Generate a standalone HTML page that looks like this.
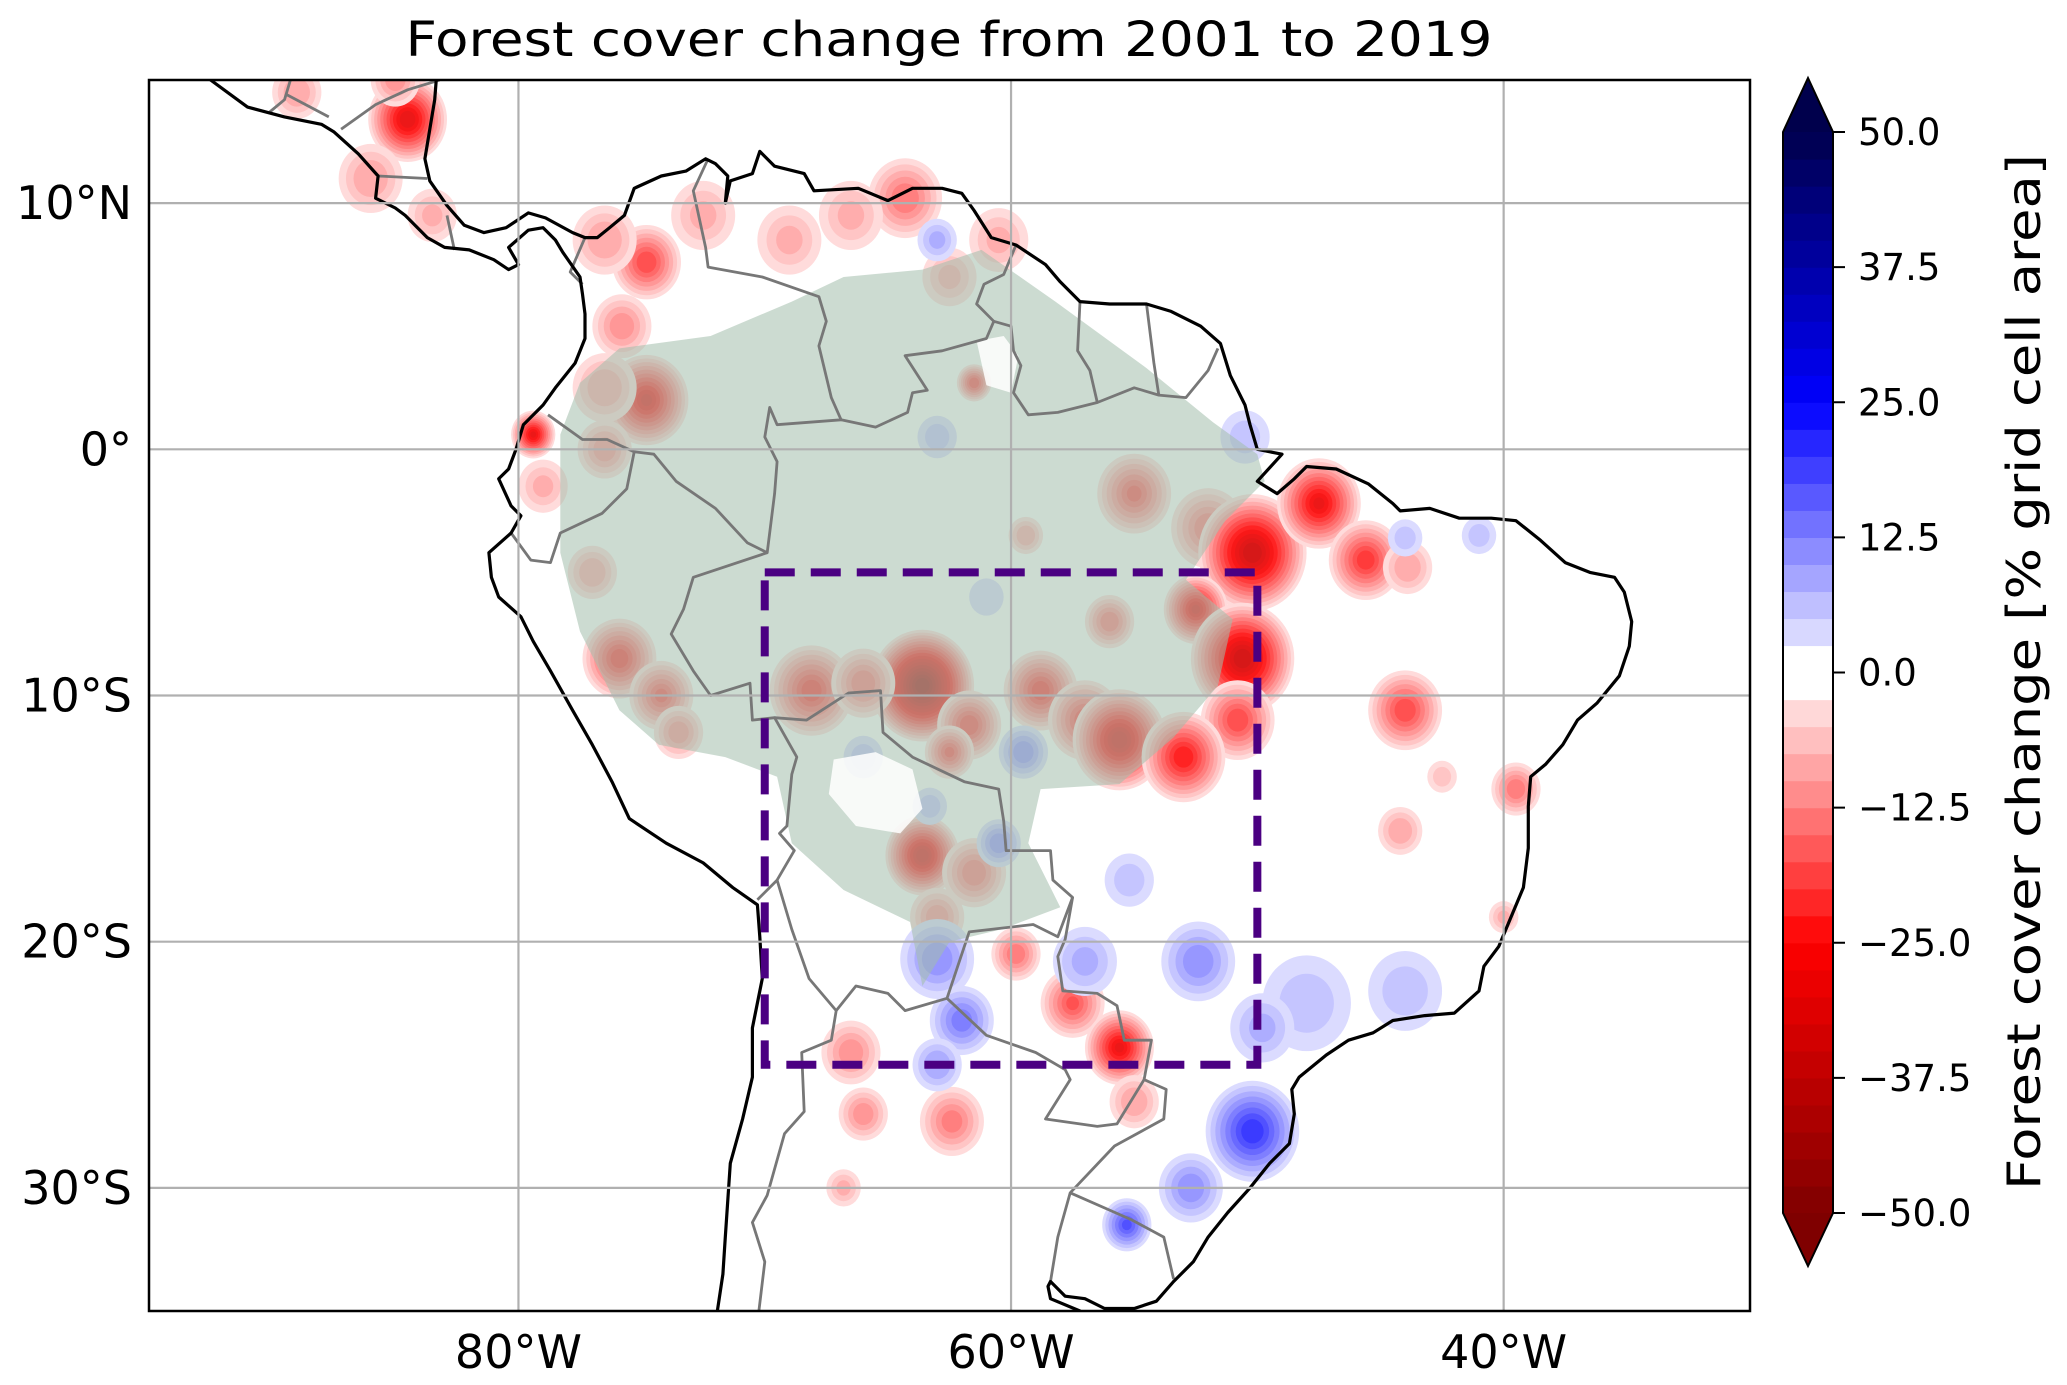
<!DOCTYPE html>
<html><head><meta charset="utf-8"><style>
body{margin:0;background:#fff}
svg{display:block}
text{font-family:"DejaVu Sans","Liberation Sans",sans-serif;fill:#000}
</style></head><body>
<svg id="fig" width="2067" height="1385" viewBox="0 0 2067 1385" xmlns="http://www.w3.org/2000/svg">
<defs><clipPath id="mapclip"><rect x="149" y="80" width="1601" height="1231"/></clipPath></defs>
<text x="949" y="56" font-size="48" text-anchor="middle" textLength="1087" lengthAdjust="spacingAndGlyphs">Forest cover change from 2001 to 2019</text>
<g id="map" clip-path="url(#mapclip)">
  <rect x="149" y="80" width="1601" height="1231" fill="#fff"/>
  <g id="blobs"></g>
  <g id="amazon"></g>
  <g id="borders"></g>
  <g id="coast"></g>
  <g id="grid"></g>
  <g id="box"></g>
</g>
<rect x="149" y="80" width="1601" height="1231" fill="none" stroke="#000" stroke-width="2.5"/>
<g id="axlabels"></g>
<g id="cbar"></g>
<text transform="translate(2040,672) rotate(-90)" font-size="46" text-anchor="middle" textLength="1036" lengthAdjust="spacingAndGlyphs">Forest cover change [% grid cell area]</text>
</svg>
<script>
// ---- data ----
const lonTicks = [-80, -60, -40];
const lonTickLabels = ["80°W", "60°W", "40°W"];
const latTicks = [10, 0, -10, -20, -30];
const latTickLabels = ["10°N", "0°", "10°S", "20°S", "30°S"];
const cbarTicks = [50, 37.5, 25, 12.5, 0, -12.5, -25, -37.5, -50];
const cbarTickLabels = ["50.0", "37.5", "25.0", "12.5", "0.0", "\u221212.5", "\u221225.0", "\u221237.5", "\u221250.0"];
const boxLon = [-70, -50];
const boxLat = [-5, -25];
// blobs: lon, lat, peak value, radius(deg)
const blobLon = [-84.5,-86,-89,-83.5,-85,-74.8,-76.5,-72.5,-75.8,-74.8,-76.5,-79.4,-79,-76.5,-64.3,-66.5,-69,-60.5,-62.5,-61.5,
 -55,-52,-50.2,-47.5,-45.6,-43.9,-52.5,-50.6,-50.8,-59.4,
 -63.6,-68.1,-66,-61.7,-62.5,-58.8,-57,-55.6,-53,-56,
 -75.9,-74.2,-73.5,-77,-63.6,-61.5,-63,
 -59.8,-57.5,-55.6,-66.5,-66,-62.4,-66.8,-55,
 -44,-44.2,-39.5,-40,-42.5,
 -50.2,-52.4,-63,-62,-63,-57,-55.2,-55.3,-52.7,-48,-44,-66,-59.5,-60.5,-63.3,-63,-44,-41,-50.5,-63,-61,-49.8];
const blobLat = [13.4,11,14.5,9.5,15,7.6,8.5,9.5,5,2,2.5,0.6,-1.5,0,10.2,9.5,8.5,8.5,7,2.7,
 -1.8,-3.2,-4.2,-2.2,-4.5,-4.8,-6.5,-8.5,-11,-3.5,
 -9.6,-9.8,-9.5,-11.2,-12.3,-9.8,-11,-11.8,-12.5,-7,
 -8.5,-10,-11.5,-5,-16.5,-17.2,-19,
 -20.5,-22.5,-24.3,-24.5,-27,-27.3,-30,-26.5,
 -10.6,-15.5,-13.8,-19,-13.3,
 -27.7,-20.8,-20.7,-23.2,-25,-20.8,-17.5,-31.5,-30,-22.5,-22,-12.5,-12.3,-16,-14.5,0.5,-3.6,-3.5,0.5,8.5,-6,-23.5];
const blobVal = [-30,-10,-10,-8,-12,-20,-10,-8,-12,-28,-10,-28,-8,-12,-15,-8,-8,-8,-8,-20,
 -18,-15,-35,-28,-22,-10,-28,-35,-20,-10,
 -45,-22,-15,-20,-18,-22,-20,-32,-25,-15,
 -22,-18,-12,-10,-32,-15,-12,
 -15,-18,-28,-12,-12,-14,-8,-10,
 -20,-10,-15,-8,-6,
 22,12,12,14,10,8,6,18,12,6,6,6,12,12,6,6,6,6,6,8,5,8];
const blobRad = [1.6,1.3,1.0,1.0,1.0,1.4,1.3,1.3,1.2,1.7,1.3,0.9,1.0,1.1,1.5,1.3,1.3,1.2,1.1,0.7,
 1.5,1.5,2.2,1.7,1.5,1.0,1.3,2.1,1.5,0.7,
 2.1,1.7,1.3,1.3,1.0,1.5,1.5,1.9,1.7,1.0,
 1.5,1.3,1.0,1.0,1.5,1.3,1.1,
 1.0,1.3,1.4,1.2,1.0,1.3,0.7,1.0,
 1.5,0.9,1.0,0.6,0.6,
 1.9,1.5,1.5,1.3,1.0,1.3,1.0,1.0,1.3,1.8,1.5,0.8,1.0,0.9,0.7,0.8,0.7,0.7,1.0,0.8,0.7,1.3];
// geography (lon/lat)
const coastline = [[-92.5,15],[-91,13.9],[-89.5,13.5],[-88,13.2],[-87.5,12.9],[-86.5,12],[-85.7,11.1],[-85.8,10.2],[-85,9.8],[-84.6,9.5],[-83.7,8.6],[-83,8.2],[-82,8.1],[-81,7.7],[-80.4,7.3],[-80,7.5],[-80.4,8.2],[-79.6,8.9],[-79,9],[-78.5,8.5],[-78.2,8],[-77.5,7],[-77.4,6.3],[-77.3,5.5],[-77.3,4.5],[-77.7,3.5],[-78.5,2.5],[-79,1.8],[-79.8,1],[-80.1,0],[-80.4,-0.8],[-80.8,-1.2],[-80.3,-2.3],[-79.9,-2.7],[-80.3,-3.4],[-81.2,-4.2],[-81.1,-5.2],[-80.8,-6],[-79.9,-6.8],[-79.4,-7.8],[-78.7,-9],[-77.8,-10.6],[-77,-12],[-76.2,-13.5],[-75.5,-15],[-74,-16],[-72.5,-16.8],[-71.3,-17.8],[-70.3,-18.5],[-70.2,-19.8],[-70.1,-21.5],[-70.5,-23.5],[-70.5,-25.5],[-70.9,-27.2],[-71.4,-29],[-71.5,-30.5],[-71.6,-32],[-71.7,-33.5],[-72,-35.5],[-57.2,-35.5],[-57.2,-35],[-58.4,-34.5],[-58.5,-34.0],[-58.4,-33.8],[-57.8,-34.4],[-57,-34.5],[-56.2,-34.9],[-55,-34.9],[-54.1,-34.6],[-53.4,-33.8],[-52.6,-33],[-52,-32],[-51.2,-31],[-50.3,-30],[-49.5,-29],[-48.7,-28.2],[-48.5,-27],[-48.6,-26],[-48.3,-25.5],[-47.2,-24.6],[-46.3,-24],[-45.3,-23.7],[-44.5,-23.2],[-43.2,-23],[-42,-22.9],[-41,-22],[-40.8,-21],[-40.2,-20.2],[-39.7,-19],[-39.2,-17.8],[-39,-16.2],[-39,-14.5],[-38.9,-13.3],[-38.3,-12.8],[-37.6,-12],[-37,-11],[-36.2,-10.3],[-35.3,-9.2],[-34.9,-8],[-34.8,-7],[-35.1,-5.8],[-35.5,-5.2],[-36.5,-5],[-37.5,-4.6],[-38.5,-3.7],[-39.5,-2.9],[-40.5,-2.8],[-41.8,-2.8],[-43,-2.4],[-44.2,-2.5],[-44.5,-2.2],[-45.5,-1.4],[-46.8,-0.8],[-48,-0.7],[-48.5,-1.2],[-49.2,-1.8],[-50,-1.3],[-49,-0.2],[-50,0],[-50.3,1],[-50.5,1.8],[-51.1,3],[-51.5,4.3],[-52.3,5],[-53.5,5.6],[-54.5,5.9],[-56,5.9],[-57.2,6],[-58,6.8],[-58.6,7.5],[-59.8,8.3],[-60.8,8.6],[-61.5,9.7],[-62,10.4],[-62.8,10.6],[-64,10.6],[-65,10.1],[-66.2,10.6],[-68,10.5],[-68.4,11.2],[-69.6,11.5],[-70.2,12.1],[-70.5,11.2],[-71.4,10.9],[-71.6,10],[-71.5,11.1],[-72,11.6],[-72.4,11.8],[-73.2,11.3],[-74.2,11.1],[-75.3,10.6],[-75.7,9.5],[-76.3,9],[-76.8,8.6],[-77.3,8.6],[-77.8,8.8],[-78.9,9.4],[-79.6,9.6],[-80.5,9],[-81.4,8.8],[-82.2,9.1],[-82.9,9.9],[-83.6,10.9],[-83.8,11.8],[-83.6,13],[-83.4,14.2],[-83.3,15.5],[-92.5,15.5]];
const borders = [
 [[-77.3,8.6],[-77.9,7.2],[-77.4,6.7]],
 [[-72.3,11.8],[-72.9,10.5],[-72.4,8.2],[-72.3,7.4],[-70.1,7],[-67.8,6.2],[-67.5,5.2],[-67.8,4.2],[-67.3,2.1],[-66.9,1.2],[-69.5,1],[-69.8,1.7],[-70,0.5],[-69.5,-0.5],[-69.6,-1.8],[-69.9,-4.2],[-70.7,-3.8],[-72,-2.4],[-73.6,-1.3],[-74.5,-0.2],[-75.3,-0.1],[-76.4,0.4],[-77.4,0.4],[-78.8,1.4]],
 [[-75.3,-0.1],[-75.6,-1.6],[-76.6,-2.6],[-78.3,-3.4],[-78.7,-4.6],[-79.5,-4.5],[-80.3,-3.4]],
 [[-66.9,1.2],[-65.5,0.9],[-64.2,1.5],[-64,2.3],[-63.4,2.4],[-64.3,3.8],[-62.8,4],[-61,4.5],[-60.7,5.2],[-61.4,5.9],[-61.1,6.7],[-60.3,7.1],[-59.8,8.3]],
 [[-60.7,5.2],[-60,5],[-59.9,4],[-59.6,3.4],[-59.9,2.3],[-59.3,1.4],[-58.1,1.5],[-56.5,1.9],[-56.8,3.2],[-57.3,4],[-57.2,6]],
 [[-56.5,1.9],[-55,2.5],[-54,2.2],[-54.2,3.5],[-54.5,5.9]],
 [[-54,2.2],[-52.9,2.1],[-52,3.2],[-51.6,4.1]],
 [[-69.9,-4.2],[-72.9,-5.2],[-73.3,-6.5],[-73.8,-7.5],[-72.9,-9],[-72.2,-10],[-70.6,-9.5],[-70.5,-11],[-69.6,-10.9],[-68.7,-12.5],[-68.9,-13.2],[-69.1,-15.3],[-69.4,-15.6],[-68.8,-16.3],[-69.5,-17.5],[-70.3,-18.3]],
 [[-69.6,-10.9],[-68.3,-11],[-66.6,-9.9],[-65.3,-9.8],[-65.2,-11.5],[-64,-12.5],[-61.9,-13.5],[-60.5,-13.8],[-60.3,-15.1],[-60.2,-16.3],[-58.4,-16.3],[-58.3,-17.5],[-57.5,-18.2],[-58.1,-19.8],[-59.1,-19.3],[-61.7,-19.6],[-62.6,-22.3],[-64.3,-22.8],[-65,-22.1],[-66.3,-21.8],[-67.1,-22.8]],
 [[-69.5,-17.5],[-68.9,-19.5],[-68.2,-21.5],[-67.1,-22.8],[-67.3,-24],[-68.5,-24.5],[-68.4,-26.9],[-69.2,-27.8],[-69.9,-30.3],[-70.5,-31.4],[-70,-33],[-70.3,-35.5]],
 [[-62.6,-22.3],[-61,-23.8],[-59,-24.5],[-57.8,-25.2],[-57.6,-25.6],[-58.6,-27.2],[-56.5,-27.5],[-55.7,-27.4],[-54.6,-25.6]],
 [[-57.5,-18.2],[-57.8,-19.9],[-58.1,-20.6],[-57.9,-22],[-56.5,-22.1],[-55.7,-22.6],[-55.4,-24],[-54.3,-24],[-54.6,-25.6],[-53.7,-26],[-53.8,-27.2],[-55.8,-28.3],[-57.6,-30.2],[-58.1,-32],[-58.4,-33.8]],
 [[-57.6,-30.2],[-56,-30.9],[-55.1,-31.3],[-53.8,-32],[-53.4,-33.7]],
 [[-85.7,11.1],[-83.7,11]],[[-82.9,9.5],[-82.6,8.1]],[[-87.2,13],[-85.8,14.0],[-84.5,14.6],[-83.2,15]],[[-89.4,14.4],[-87.7,13.5]],[[-89.2,15.2],[-89.5,14.2],[-90.1,13.7]]
];
const amazon = [[-78.3,0.6],[-77.5,2.7],[-75.9,4.1],[-72.2,4.6],[-68.9,6.0],[-66.8,7.0],[-63.6,7.3],[-61.2,8.1],[-58.2,6.0],[-54.5,3.3],[-51.8,1.1],[-50.0,-0.2],[-49.7,-1.3],[-51.3,-2.9],[-52.9,-5.3],[-51.0,-6.9],[-51.6,-9.6],[-53.4,-11.7],[-55.6,-13.6],[-58.8,-13.8],[-59.3,-16.0],[-58.0,-18.6],[-60.4,-19.5],[-62.5,-20],[-63.6,-21.8],[-64.1,-19.2],[-66.8,-17.9],[-68.9,-16.0],[-69.5,-13.3],[-71.6,-12.5],[-74.3,-12.0],[-75.9,-10.6],[-77.5,-7.4],[-78.3,-4.2]];
const amazonHoles = [[[-67.2,-12.6],[-65.5,-12.3],[-64,-13],[-63.6,-14.6],[-64.5,-15.6],[-66.3,-15.3],[-67.4,-14]],[[-61.4,4.4],[-60.3,4.6],[-59.7,3.8],[-60,2.3],[-61,2.6]]];

// ---- axes ----
const X = lon => 149 + (lon + 95) * 24.63;
const Y = lat => 80 + (15 - lat) * 24.62;
const NS = "http://www.w3.org/2000/svg";
function mk(tag, attrs, parent){const e=document.createElementNS(NS,tag);for(const k in attrs)e.setAttribute(k,attrs[k]);parent.appendChild(e);return e;}
function pts(arr){return arr.map(p=>X(p[0]).toFixed(1)+","+Y(p[1]).toFixed(1)).join(" ");}
function col(v){const t=Math.max(-1,Math.min(1,v/50));let r,g,b;
 if(t<0){const a=-t; if(a<=0.5){r=255;g=b=255*(1-2*a);} else {r=255*(1-(a-0.5));g=b=0;}}
 else {if(t<=0.5){r=g=255*(1-2*t);b=255;} else {r=g=0;b=255*(1-(t-0.5)*1.4);}}
 return `rgb(${r|0},${g|0},${b|0})`;}

// blobs
const bl=document.getElementById('blobs');
bl.setAttribute('opacity','0.9');
for(let i=0;i<blobLon.length;i++){
 const v=blobVal[i],a=Math.abs(v),s=Math.sign(v);
 for(let L=2.5;L<a;L+=2.5){
  const rr=blobRad[i]*Math.pow(1-(L-2.5)/a,0.9)*24.63;
  const e=mk('ellipse',{cx:X(blobLon[i]),cy:Y(blobLat[i]),rx:rr,ry:rr*1.08,fill:col(s*(L+1.25))},bl);
  
  
 }
}
// amazon
const am=document.getElementById('amazon');
const ap=mk('polygon',{points:pts(amazon),fill:'rgb(162,189,171)','fill-opacity':0.55},am);


amazonHoles.forEach(h=>{const e=mk('polygon',{points:pts(h),fill:'#fff','fill-opacity':0.85},am);
 
 });
// borders
const bd=document.getElementById('borders');
borders.forEach(b=>{const e=mk('polyline',{points:pts(b),fill:'none',stroke:'#777','stroke-width':2.8,'stroke-linejoin':'round'},bd);
 
 });
// coast
const cs=document.getElementById('coast');
const cp=mk('polygon',{points:pts(coastline),fill:'none',stroke:'#000','stroke-width':3.2,'stroke-linejoin':'round'},cs);


// grid
const gr=document.getElementById('grid');
lonTicks.forEach(l=>{const e=mk('line',{x1:X(l),x2:X(l),y1:80,y2:1311,stroke:'#b0b0b0','stroke-width':2.2},gr);
 
 });
latTicks.forEach(l=>{const e=mk('line',{x1:149,x2:1750,y1:Y(l),y2:Y(l),stroke:'#b0b0b0','stroke-width':2.2},gr);
 
 });
// box
const bx=document.getElementById('box');
const br=mk('rect',{x:X(boxLon[0]),y:Y(boxLat[0]),width:X(boxLon[1])-X(boxLon[0]),height:Y(boxLat[1])-Y(boxLat[0]),fill:'none',stroke:'#4b0082','stroke-width':8,'stroke-dasharray':'30 16'},bx);


// axis labels
const al=document.getElementById('axlabels');
lonTicks.forEach((l,i)=>{const t=mk('text',{x:X(l),y:1368,'font-size':46,'text-anchor':'middle'},al);t.textContent=lonTickLabels[i];
 
 });
latTicks.forEach((l,i)=>{const t=mk('text',{x:132,y:Y(l)+16,'font-size':46,'text-anchor':'end'},al);t.textContent=latTickLabels[i];
 
 });
// colorbar
const cb=document.getElementById('cbar');
const CB=v=>132+(50-v)*(1213-132)/100;
for(let v=-50;v<50;v+=2.5){const mid=v+1.25;const c=(Math.abs(mid)<2.5)?'#fff':col(mid);
 const r=mk('rect',{x:1783,y:CB(v+2.5),width:50,height:CB(v)-CB(v+2.5)+0.6,fill:c},cb);
 
 }
const tu=mk('polygon',{points:`1783,132 1808,78 1833,132`,fill:col(50)},cb);


const td=mk('polygon',{points:`1783,1213 1808,1266 1833,1213`,fill:col(-50)},cb);


const ol=mk('polygon',{points:`1783,132 1808,78 1833,132 1833,1213 1808,1266 1783,1213`,fill:'none',stroke:'#000','stroke-width':2},cb);


cbarTicks.forEach((v,i)=>{
 const l=mk('line',{x1:1833,x2:1845,y1:CB(v),y2:CB(v),stroke:'#000','stroke-width':2},cb);
 
 
 const t=mk('text',{x:1858,y:CB(v)+13,'font-size':37},cb);t.textContent=cbarTickLabels[i];
 
 
});
</script>
</body></html>
